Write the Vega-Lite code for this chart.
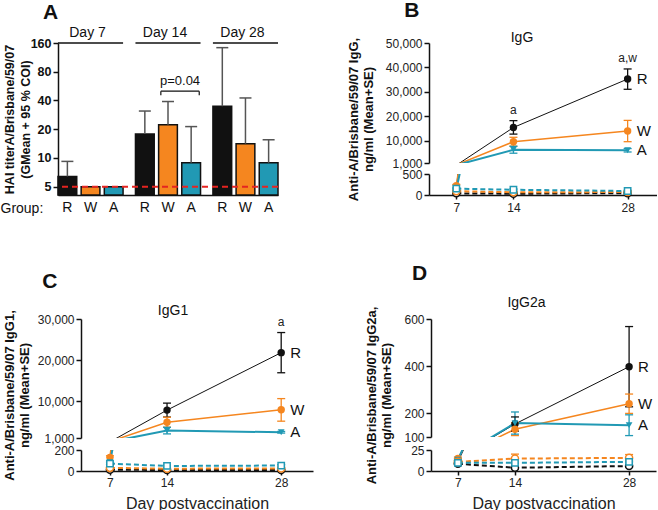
{
  "$schema": "https://vega.github.io/schema/vega-lite/v6.json",
  "padding": {"left": 0, "top": 0, "right": 0, "bottom": 0},
  "config": {
    "font": "Liberation Sans",
    "view": {"stroke": null},
    "axis": {"grid": false, "domainColor": "#111", "domainWidth": 1.5, "tickColor": "#111", "tickWidth": 1.5, "labelColor": "#222", "titleColor": "#111", "labelOverlap": false},
    "title": {"color": "#111"}
  },
  "datasets": {
    "hai": [
      {"day": "Day 7", "group": "R", "gmean": 6.4, "upper": 9.2},
      {"day": "Day 7", "group": "W", "gmean": 5, "upper": 5},
      {"day": "Day 7", "group": "A", "gmean": 5, "upper": 5},
      {"day": "Day 14", "group": "R", "gmean": 17.8, "upper": 31},
      {"day": "Day 14", "group": "W", "gmean": 22.3, "upper": 39},
      {"day": "Day 14", "group": "A", "gmean": 8.9, "upper": 21.3},
      {"day": "Day 28", "group": "R", "gmean": 34.8, "upper": 143},
      {"day": "Day 28", "group": "W", "gmean": 14.1, "upper": 42.5},
      {"day": "Day 28", "group": "A", "gmean": 8.9, "upper": 15.5}
    ],
    "days": [{"day": "Day 7"}, {"day": "Day 14"}, {"day": "Day 28"}],
    "pval": [{"day": "Day 14", "label": "p=0.04"}],
    "lod": [{"lod": 5}],
    "ab": [
      {"panel": "IgG", "arm": "vaccine", "group": "R", "day": 7, "mean": 90, "lo": 70, "hi": 110},
      {"panel": "IgG", "arm": "vaccine", "group": "R", "day": 14, "mean": 15500, "lo": 12800, "hi": 18300, "sig": "a"},
      {"panel": "IgG", "arm": "vaccine", "group": "R", "day": 28, "mean": 35300, "lo": 31100, "hi": 39400, "sig": "a,w"},
      {"panel": "IgG", "arm": "vaccine", "group": "W", "day": 7, "mean": 220, "lo": 190, "hi": 250},
      {"panel": "IgG", "arm": "vaccine", "group": "W", "day": 14, "mean": 9700, "lo": 7900, "hi": 11500},
      {"panel": "IgG", "arm": "vaccine", "group": "W", "day": 28, "mean": 14100, "lo": 9700, "hi": 18400},
      {"panel": "IgG", "arm": "vaccine", "group": "A", "day": 7, "mean": 135, "lo": 110, "hi": 160},
      {"panel": "IgG", "arm": "vaccine", "group": "A", "day": 14, "mean": 6400, "lo": 5000, "hi": 7800},
      {"panel": "IgG", "arm": "vaccine", "group": "A", "day": 28, "mean": 6200, "lo": 5500, "hi": 6900},
      {"panel": "IgG", "arm": "control", "group": "R", "day": 7, "mean": 40, "lo": 30, "hi": 50},
      {"panel": "IgG", "arm": "control", "group": "R", "day": 14, "mean": 30, "lo": 20, "hi": 40},
      {"panel": "IgG", "arm": "control", "group": "R", "day": 28, "mean": 45, "lo": 35, "hi": 55},
      {"panel": "IgG", "arm": "control", "group": "W", "day": 7, "mean": 90, "lo": 75, "hi": 105},
      {"panel": "IgG", "arm": "control", "group": "W", "day": 14, "mean": 65, "lo": 50, "hi": 80},
      {"panel": "IgG", "arm": "control", "group": "W", "day": 28, "mean": 70, "lo": 55, "hi": 85},
      {"panel": "IgG", "arm": "control", "group": "A", "day": 7, "mean": 150, "lo": 130, "hi": 170},
      {"panel": "IgG", "arm": "control", "group": "A", "day": 14, "mean": 125, "lo": 105, "hi": 145},
      {"panel": "IgG", "arm": "control", "group": "A", "day": 28, "mean": 95, "lo": 80, "hi": 110},

      {"panel": "IgG1", "arm": "vaccine", "group": "R", "day": 7, "mean": 55, "lo": 45, "hi": 65},
      {"panel": "IgG1", "arm": "vaccine", "group": "R", "day": 14, "mean": 7800, "lo": 6100, "hi": 9500},
      {"panel": "IgG1", "arm": "vaccine", "group": "R", "day": 28, "mean": 21800, "lo": 16900, "hi": 26700, "sig": "a"},
      {"panel": "IgG1", "arm": "vaccine", "group": "W", "day": 7, "mean": 130, "lo": 115, "hi": 145},
      {"panel": "IgG1", "arm": "vaccine", "group": "W", "day": 14, "mean": 4850, "lo": 3650, "hi": 6050},
      {"panel": "IgG1", "arm": "vaccine", "group": "W", "day": 28, "mean": 7900, "lo": 5100, "hi": 10600},
      {"panel": "IgG1", "arm": "vaccine", "group": "A", "day": 7, "mean": 85, "lo": 75, "hi": 95},
      {"panel": "IgG1", "arm": "vaccine", "group": "A", "day": 14, "mean": 2800, "lo": 2000, "hi": 3600},
      {"panel": "IgG1", "arm": "vaccine", "group": "A", "day": 28, "mean": 2400, "lo": 2200, "hi": 2600},
      {"panel": "IgG1", "arm": "control", "group": "R", "day": 7, "mean": 12, "lo": 9, "hi": 15},
      {"panel": "IgG1", "arm": "control", "group": "R", "day": 14, "mean": 10, "lo": 7, "hi": 13},
      {"panel": "IgG1", "arm": "control", "group": "R", "day": 28, "mean": 10, "lo": 7, "hi": 13},
      {"panel": "IgG1", "arm": "control", "group": "W", "day": 7, "mean": 30, "lo": 25, "hi": 35},
      {"panel": "IgG1", "arm": "control", "group": "W", "day": 14, "mean": 22, "lo": 17, "hi": 27},
      {"panel": "IgG1", "arm": "control", "group": "W", "day": 28, "mean": 25, "lo": 20, "hi": 30},
      {"panel": "IgG1", "arm": "control", "group": "A", "day": 7, "mean": 70, "lo": 60, "hi": 80},
      {"panel": "IgG1", "arm": "control", "group": "A", "day": 14, "mean": 48, "lo": 40, "hi": 56},
      {"panel": "IgG1", "arm": "control", "group": "A", "day": 28, "mean": 52, "lo": 44, "hi": 60},

      {"panel": "IgG2a", "arm": "vaccine", "group": "R", "day": 7, "mean": 11, "lo": 9.5, "hi": 12.5},
      {"panel": "IgG2a", "arm": "vaccine", "group": "R", "day": 14, "mean": 155, "lo": 125, "hi": 185},
      {"panel": "IgG2a", "arm": "vaccine", "group": "R", "day": 28, "mean": 398, "lo": 228, "hi": 568},
      {"panel": "IgG2a", "arm": "vaccine", "group": "W", "day": 7, "mean": 15, "lo": 13.5, "hi": 16.5},
      {"panel": "IgG2a", "arm": "vaccine", "group": "W", "day": 14, "mean": 133, "lo": 106, "hi": 160},
      {"panel": "IgG2a", "arm": "vaccine", "group": "W", "day": 28, "mean": 241, "lo": 200, "hi": 282},
      {"panel": "IgG2a", "arm": "vaccine", "group": "A", "day": 7, "mean": 13.5, "lo": 12, "hi": 15},
      {"panel": "IgG2a", "arm": "vaccine", "group": "A", "day": 14, "mean": 159, "lo": 112, "hi": 206},
      {"panel": "IgG2a", "arm": "vaccine", "group": "A", "day": 28, "mean": 150, "lo": 106, "hi": 194},
      {"panel": "IgG2a", "arm": "control", "group": "R", "day": 7, "mean": 8.6, "lo": 7.6, "hi": 9.6},
      {"panel": "IgG2a", "arm": "control", "group": "R", "day": 14, "mean": 3.9, "lo": 2.9, "hi": 4.9},
      {"panel": "IgG2a", "arm": "control", "group": "R", "day": 28, "mean": 5.9, "lo": 4.9, "hi": 6.9},
      {"panel": "IgG2a", "arm": "control", "group": "W", "day": 7, "mean": 10.9, "lo": 9.4, "hi": 12.4},
      {"panel": "IgG2a", "arm": "control", "group": "W", "day": 14, "mean": 14.8, "lo": 9.5, "hi": 20.1},
      {"panel": "IgG2a", "arm": "control", "group": "W", "day": 28, "mean": 15.6, "lo": 11.6, "hi": 19.6},
      {"panel": "IgG2a", "arm": "control", "group": "A", "day": 7, "mean": 9.7, "lo": 8.7, "hi": 10.7},
      {"panel": "IgG2a", "arm": "control", "group": "A", "day": 14, "mean": 9.7, "lo": 8.7, "hi": 10.7},
      {"panel": "IgG2a", "arm": "control", "group": "A", "day": 28, "mean": 10.9, "lo": 9.9, "hi": 11.9}
    ]
  },
  "spacing": 48,
  "vconcat": [
    {
      "spacing": 68,
      "hconcat": [
        {
          "width": 220,
          "height": 152,
          "title": {"text": "A", "anchor": "start", "dx": 43, "fontSize": 21, "fontWeight": "bold", "offset": 3},
          "layer": [
            {
              "data": {"name": "hai"},
              "mark": {"type": "bar", "stroke": "#111", "strokeWidth": 1.5},
              "encoding": {
                "x": {"field": "day", "type": "nominal", "sort": ["Day 7", "Day 14", "Day 28"], "scale": {"paddingInner": 0.16, "paddingOuter": 0},
                  "axis": {"title": "Group:", "labels": false, "ticks": false, "titleX": -58, "titleY": 13, "titleAlign": "left", "titleBaseline": "middle", "titleFontSize": 14, "titleFontWeight": "normal", "titleColor": "#111"}},
                "xOffset": {"field": "group", "type": "nominal", "sort": ["R", "W", "A"], "scale": {"paddingInner": 0.19, "paddingOuter": 0}},
                "y": {"field": "gmean", "type": "quantitative", "scale": {"type": "log", "domain": [4.09, 160], "nice": false},
                  "axis": {"values": [5, 10, 20, 40, 80, 160], "tickCount": 20, "format": "d", "title": ["HAI titerA/Brisbane/59/07", "(GMean + 95 % COI)"], "titleFontSize": 12.5, "titleFontWeight": "bold", "titleLineHeight": 16, "titlePadding": -2, "labelFontSize": 12.5, "labelFontWeight": "bold", "labelColor": "#111", "tickSize": 5, "labelPadding": 2}},
                "y2": {"datum": 4.09},
                "color": {"field": "group", "type": "nominal", "scale": {"domain": ["R", "W", "A"], "range": ["#111111", "#F5861F", "#2199B4"]}, "legend": null}
              }
            },
            {
              "data": {"name": "hai"},
              "transform": [{"filter": "datum.upper > datum.gmean"}],
              "mark": {"type": "rule", "color": "#555", "strokeWidth": 1.5},
              "encoding": {
                "x": {"field": "day", "type": "nominal", "sort": ["Day 7", "Day 14", "Day 28"]},
                "xOffset": {"field": "group", "type": "nominal", "sort": ["R", "W", "A"]},
                "y": {"field": "gmean", "type": "quantitative"},
                "y2": {"field": "upper"}
              }
            },
            {
              "data": {"name": "hai"},
              "transform": [{"filter": "datum.upper > datum.gmean"}],
              "mark": {"type": "tick", "orient": "horizontal", "color": "#555", "size": 12, "thickness": 1.5, "opacity": 1},
              "encoding": {
                "x": {"field": "day", "type": "nominal", "sort": ["Day 7", "Day 14", "Day 28"]},
                "xOffset": {"field": "group", "type": "nominal", "sort": ["R", "W", "A"]},
                "y": {"field": "upper", "type": "quantitative"}
              }
            },
            {
              "data": {"name": "lod"},
              "mark": {"type": "rule", "color": "#E52421", "strokeWidth": 2, "strokeDash": [6, 4]},
              "encoding": {"y": {"field": "lod", "type": "quantitative"}}
            },
            {
              "data": {"name": "days"},
              "mark": {"type": "rule", "color": "#111", "strokeWidth": 1.5},
              "encoding": {
                "x": {"field": "day", "type": "nominal", "sort": ["Day 7", "Day 14", "Day 28"], "bandPosition": 0},
                "x2": {"field": "day", "bandPosition": 1},
                "y": {"datum": 160}
              }
            },
            {
              "data": {"name": "days"},
              "mark": {"type": "text", "fontSize": 14, "dy": -10, "dx": -3, "baseline": "middle", "color": "#111"},
              "encoding": {
                "x": {"field": "day", "type": "nominal", "sort": ["Day 7", "Day 14", "Day 28"]},
                "y": {"datum": 160},
                "text": {"field": "day"}
              }
            },
            {
              "data": {"name": "hai"},
              "mark": {"type": "text", "fontSize": 14, "dy": 13, "baseline": "middle", "color": "#111"},
              "encoding": {
                "x": {"field": "day", "type": "nominal", "sort": ["Day 7", "Day 14", "Day 28"]},
                "xOffset": {"field": "group", "type": "nominal", "sort": ["R", "W", "A"]},
                "y": {"datum": 4.09},
                "text": {"field": "group"}
              }
            },
            {
              "data": {"name": "pval"},
              "mark": {"type": "rule", "color": "#111", "strokeWidth": 1.2},
              "encoding": {
                "x": {"field": "day", "type": "nominal", "sort": ["Day 7", "Day 14", "Day 28"], "bandPosition": 0.39},
                "x2": {"field": "day", "bandPosition": 0.98},
                "y": {"datum": 50}
              }
            },
            {
              "data": {"name": "pval"},
              "mark": {"type": "rule", "color": "#111", "strokeWidth": 1.2},
              "encoding": {
                "x": {"field": "day", "type": "nominal", "sort": ["Day 7", "Day 14", "Day 28"], "bandPosition": 0.39},
                "y": {"datum": 50},
                "y2": {"datum": 45.5}
              }
            },
            {
              "data": {"name": "pval"},
              "mark": {"type": "rule", "color": "#111", "strokeWidth": 1.2},
              "encoding": {
                "x": {"field": "day", "type": "nominal", "sort": ["Day 7", "Day 14", "Day 28"], "bandPosition": 0.98},
                "y": {"datum": 50},
                "y2": {"datum": 45.5}
              }
            },
            {
              "data": {"name": "pval"},
              "mark": {"type": "text", "fontSize": 13, "dy": -10, "baseline": "middle", "color": "#111"},
              "encoding": {
                "x": {"field": "day", "type": "nominal", "sort": ["Day 7", "Day 14", "Day 28"], "bandPosition": 0.685},
                "y": {"datum": 50},
                "text": {"field": "label"}
              }
            }
          ]
        },
        {
          "title": {"text": "B", "anchor": "start", "dx": 57, "fontSize": 21, "fontWeight": "bold", "offset": 10},
          "spacing": 11,
          "bounds": "flush",
          "vconcat": [
            {
              "width": 228,
              "height": 120,
              "title": {"text": "IgG", "fontSize": 14, "fontWeight": "normal", "dx": -21, "offset": -8, "frame": "group"},
              "data": {"name": "ab"},
              "transform": [{"filter": "datum.panel == 'IgG'"}],
              "encoding": {
                "x": {"field": "day", "type": "quantitative", "scale": {"domain": [3.65, 31.6], "nice": false, "zero": false}, "axis": null},
                "color": {"field": "group", "type": "nominal", "scale": {"domain": ["R", "W", "A"], "range": ["#111111", "#F5861F", "#2199B4"]}, "legend": null}
              },
              "layer": [
                {
                  "transform": [{"filter": "datum.arm == 'vaccine'"}],
                  "mark": {"type": "line", "clip": true},
                  "encoding": {
                    "y": {"field": "mean", "type": "quantitative", "scale": {"domain": [1000, 50000], "nice": false, "zero": false},
                      "axis": {"values": [1000, 10000, 20000, 30000, 40000, 50000], "tickCount": 20, "format": ",d", "title": ["Anti-A/Brisbane/59/07 IgG,", "ng/ml (Mean+SE)"], "titleFontSize": 13, "titleFontWeight": "bold", "titleLineHeight": 15, "titlePadding": 10, "titleY": 76, "labelFontSize": 12, "tickSize": 5, "labelPadding": 2}},
                    "strokeWidth": {"field": "group", "type": "nominal", "scale": {"domain": ["R", "W", "A"], "range": [1, 2, 2]}, "legend": null}
                  }
                },
                {
                  "transform": [{"filter": "datum.arm == 'vaccine' && datum.mean >= 1000"}],
                  "mark": {"type": "rule", "strokeWidth": 1.3},
                  "encoding": {"y": {"field": "lo", "type": "quantitative"}, "y2": {"field": "hi"}}
                },
                {
                  "transform": [{"filter": "datum.arm == 'vaccine' && datum.mean >= 1000"}],
                  "mark": {"type": "tick", "orient": "horizontal", "size": 8, "thickness": 1.3, "opacity": 1},
                  "encoding": {"y": {"field": "lo", "type": "quantitative"}}
                },
                {
                  "transform": [{"filter": "datum.arm == 'vaccine' && datum.mean >= 1000"}],
                  "mark": {"type": "tick", "orient": "horizontal", "size": 8, "thickness": 1.3, "opacity": 1},
                  "encoding": {"y": {"field": "hi", "type": "quantitative"}}
                },
                {
                  "transform": [{"filter": "datum.arm == 'vaccine' && datum.mean >= 1000 && datum.group != 'A'"}],
                  "mark": {"type": "point", "shape": "circle", "filled": true, "size": 55, "opacity": 1},
                  "encoding": {"y": {"field": "mean", "type": "quantitative"}}
                },
                {
                  "transform": [{"filter": "datum.arm == 'vaccine' && datum.mean >= 1000 && datum.group == 'A'"}],
                  "mark": {"type": "point", "shape": "triangle-down", "filled": true, "size": 45, "opacity": 1},
                  "encoding": {"y": {"field": "mean", "type": "quantitative"}}
                },
                {
                  "transform": [{"filter": "datum.arm == 'vaccine' && datum.day == 28"}],
                  "mark": {"type": "text", "align": "left", "baseline": "middle", "dx": 9, "fontSize": 15},
                  "encoding": {"y": {"field": "mean", "type": "quantitative"}, "text": {"field": "group"}, "color": {"value": "#111"}}
                },
                {
                  "transform": [{"filter": "datum.sig"}],
                  "mark": {"type": "text", "baseline": "middle", "dy": -11, "fontSize": 12},
                  "encoding": {"y": {"field": "hi", "type": "quantitative"}, "text": {"field": "sig"}, "color": {"value": "#222"}}
                }
              ]
            },
            {
              "width": 228,
              "height": 21,
              "data": {"name": "ab"},
              "transform": [{"filter": "datum.panel == 'IgG'"}],
              "encoding": {
                "x": {"field": "day", "type": "quantitative", "scale": {"domain": [3.65, 31.6], "nice": false, "zero": false},
                  "axis": {"values": [7, 14, 28], "tickCount": 20, "format": "d", "title": null, "labelFontSize": 12, "tickSize": 4, "labelPadding": 3}},
                "color": {"field": "group", "type": "nominal", "scale": {"domain": ["R", "W", "A"], "range": ["#111111", "#F5861F", "#2199B4"]}, "legend": null}
              },
              "layer": [
                {
                  "transform": [{"filter": "datum.arm == 'control'"}],
                  "mark": {"type": "line", "strokeDash": [5, 3], "strokeWidth": 2},
                  "encoding": {
                    "y": {"field": "mean", "type": "quantitative", "scale": {"domain": [0, 500], "nice": false},
                      "axis": {"values": [0, 500], "tickCount": 20, "format": "d", "title": null, "labelFontSize": 12, "tickSize": 5, "labelPadding": 2}}
                  }
                },
                {
                  "transform": [{"filter": "datum.arm == 'vaccine'"}],
                  "mark": {"type": "line", "clip": true},
                  "encoding": {
                    "y": {"field": "mean", "type": "quantitative"},
                    "strokeWidth": {"field": "group", "type": "nominal", "scale": {"domain": ["R", "W", "A"], "range": [1, 2, 2]}, "legend": null}
                  }
                },
                {
                  "transform": [{"filter": "datum.mean <= 500"}],
                  "mark": {"type": "rule", "strokeWidth": 1.3},
                  "encoding": {"y": {"field": "lo", "type": "quantitative"}, "y2": {"field": "hi"}}
                },
                {
                  "transform": [{"filter": "datum.mean <= 500"}],
                  "mark": {"type": "tick", "orient": "horizontal", "size": 8, "thickness": 1.3, "opacity": 1},
                  "encoding": {"y": {"field": "hi", "type": "quantitative"}}
                },
                {
                  "transform": [{"filter": "datum.arm == 'vaccine' && datum.mean <= 500 && datum.group != 'A'"}],
                  "mark": {"type": "point", "shape": "circle", "filled": true, "size": 55, "opacity": 1},
                  "encoding": {"y": {"field": "mean", "type": "quantitative"}}
                },
                {
                  "transform": [{"filter": "datum.arm == 'vaccine' && datum.mean <= 500 && datum.group == 'A'"}],
                  "mark": {"type": "point", "shape": "triangle-down", "filled": true, "size": 45, "opacity": 1},
                  "encoding": {"y": {"field": "mean", "type": "quantitative"}}
                },
                {
                  "transform": [{"filter": "datum.arm == 'control' && datum.group != 'A'"}],
                  "mark": {"type": "point", "shape": "circle", "filled": false, "fill": "white", "strokeWidth": 1.5, "size": 50, "opacity": 1},
                  "encoding": {"y": {"field": "mean", "type": "quantitative"}}
                },
                {
                  "transform": [{"filter": "datum.arm == 'control' && datum.group == 'A'"}],
                  "mark": {"type": "point", "shape": "square", "filled": false, "fill": "white", "strokeWidth": 1.5, "size": 40, "opacity": 1},
                  "encoding": {"y": {"field": "mean", "type": "quantitative"}}
                }
              ]
            }
          ]
        }
      ]
    },
    {
      "spacing": 52,
      "hconcat": [
        {
          "spacing": 20,
          "bounds": "flush",
          "hconcat": [
            {"width": 3, "height": 1, "data": {"values": []}, "mark": "point"},
            {
              "title": {"text": "C", "anchor": "start", "dx": 39, "fontSize": 21, "fontWeight": "bold", "offset": 12},
              "spacing": 12,
              "bounds": "flush",
              "vconcat": [
                {
                  "width": 232,
                  "height": 119,
                  "title": {"text": "IgG1", "fontSize": 14, "fontWeight": "normal", "dx": -24, "offset": -8, "frame": "group"},
                  "data": {"name": "ab"},
                  "transform": [{"filter": "datum.panel == 'IgG1'"}],
                  "encoding": {
                    "x": {"field": "day", "type": "quantitative", "scale": {"domain": [3.45, 31.9], "nice": false, "zero": false}, "axis": null},
                    "color": {"field": "group", "type": "nominal", "scale": {"domain": ["R", "W", "A"], "range": ["#111111", "#F5861F", "#2199B4"]}, "legend": null}
                  },
                  "layer": [
                    {
                      "transform": [{"filter": "datum.arm == 'vaccine'"}],
                      "mark": {"type": "line", "clip": true},
                      "encoding": {
                        "y": {"field": "mean", "type": "quantitative", "scale": {"domain": [1000, 30000], "nice": false, "zero": false},
                          "axis": {"values": [1000, 10000, 20000, 30000], "tickCount": 20, "format": ",d", "title": ["Anti-A/Brisbane/59/07 IgG1,", "ng/ml (Mean+SE)"], "titleFontSize": 13, "titleFontWeight": "bold", "titleLineHeight": 15, "titlePadding": 6, "titleY": 76, "labelFontSize": 12, "tickSize": 5, "labelPadding": 2}},
                        "strokeWidth": {"field": "group", "type": "nominal", "scale": {"domain": ["R", "W", "A"], "range": [1, 2, 2]}, "legend": null}
                      }
                    },
                    {
                      "transform": [{"filter": "datum.arm == 'vaccine' && datum.mean >= 1000"}],
                      "mark": {"type": "rule", "strokeWidth": 1.3},
                      "encoding": {"y": {"field": "lo", "type": "quantitative"}, "y2": {"field": "hi"}}
                    },
                    {
                      "transform": [{"filter": "datum.arm == 'vaccine' && datum.mean >= 1000"}],
                      "mark": {"type": "tick", "orient": "horizontal", "size": 8, "thickness": 1.3, "opacity": 1},
                      "encoding": {"y": {"field": "lo", "type": "quantitative"}}
                    },
                    {
                      "transform": [{"filter": "datum.arm == 'vaccine' && datum.mean >= 1000"}],
                      "mark": {"type": "tick", "orient": "horizontal", "size": 8, "thickness": 1.3, "opacity": 1},
                      "encoding": {"y": {"field": "hi", "type": "quantitative"}}
                    },
                    {
                      "transform": [{"filter": "datum.arm == 'vaccine' && datum.mean >= 1000 && datum.group != 'A'"}],
                      "mark": {"type": "point", "shape": "circle", "filled": true, "size": 55, "opacity": 1},
                      "encoding": {"y": {"field": "mean", "type": "quantitative"}}
                    },
                    {
                      "transform": [{"filter": "datum.arm == 'vaccine' && datum.mean >= 1000 && datum.group == 'A'"}],
                      "mark": {"type": "point", "shape": "triangle-down", "filled": true, "size": 45, "opacity": 1},
                      "encoding": {"y": {"field": "mean", "type": "quantitative"}}
                    },
                    {
                      "transform": [{"filter": "datum.arm == 'vaccine' && datum.day == 28"}],
                      "mark": {"type": "text", "align": "left", "baseline": "middle", "dx": 9, "fontSize": 15},
                      "encoding": {"y": {"field": "mean", "type": "quantitative"}, "text": {"field": "group"}, "color": {"value": "#111"}}
                    },
                    {
                      "transform": [{"filter": "datum.sig"}],
                      "mark": {"type": "text", "baseline": "middle", "dy": -11, "fontSize": 12},
                      "encoding": {"y": {"field": "hi", "type": "quantitative"}, "text": {"field": "sig"}, "color": {"value": "#222"}}
                    }
                  ]
                },
                {
                  "width": 232,
                  "height": 21,
                  "data": {"name": "ab"},
                  "transform": [{"filter": "datum.panel == 'IgG1'"}],
                  "encoding": {
                    "x": {"field": "day", "type": "quantitative", "scale": {"domain": [3.45, 31.9], "nice": false, "zero": false},
                      "axis": {"values": [7, 14, 28], "tickCount": 20, "format": "d", "title": "Day postvaccination", "titleFontSize": 16, "titleFontWeight": "normal", "titleColor": "#222", "titlePadding": 7, "labelFontSize": 12, "tickSize": 4, "labelPadding": 2}},
                    "color": {"field": "group", "type": "nominal", "scale": {"domain": ["R", "W", "A"], "range": ["#111111", "#F5861F", "#2199B4"]}, "legend": null}
                  },
                  "layer": [
                    {
                      "transform": [{"filter": "datum.arm == 'control'"}],
                      "mark": {"type": "line", "strokeDash": [5, 3], "strokeWidth": 2},
                      "encoding": {
                        "y": {"field": "mean", "type": "quantitative", "scale": {"domain": [0, 200], "nice": false},
                          "axis": {"values": [0, 200], "tickCount": 20, "format": "d", "title": null, "labelFontSize": 12, "tickSize": 5, "labelPadding": 2}}
                      }
                    },
                    {
                      "transform": [{"filter": "datum.arm == 'vaccine'"}],
                      "mark": {"type": "line", "clip": true},
                      "encoding": {
                        "y": {"field": "mean", "type": "quantitative"},
                        "strokeWidth": {"field": "group", "type": "nominal", "scale": {"domain": ["R", "W", "A"], "range": [1, 2, 2]}, "legend": null}
                      }
                    },
                    {
                      "transform": [{"filter": "datum.mean <= 200"}],
                      "mark": {"type": "rule", "strokeWidth": 1.3},
                      "encoding": {"y": {"field": "lo", "type": "quantitative"}, "y2": {"field": "hi"}}
                    },
                    {
                      "transform": [{"filter": "datum.mean <= 200"}],
                      "mark": {"type": "tick", "orient": "horizontal", "size": 8, "thickness": 1.3, "opacity": 1},
                      "encoding": {"y": {"field": "hi", "type": "quantitative"}}
                    },
                    {
                      "transform": [{"filter": "datum.arm == 'vaccine' && datum.mean <= 200 && datum.group != 'A'"}],
                      "mark": {"type": "point", "shape": "circle", "filled": true, "size": 55, "opacity": 1},
                      "encoding": {"y": {"field": "mean", "type": "quantitative"}}
                    },
                    {
                      "transform": [{"filter": "datum.arm == 'vaccine' && datum.mean <= 200 && datum.group == 'A'"}],
                      "mark": {"type": "point", "shape": "triangle-down", "filled": true, "size": 45, "opacity": 1},
                      "encoding": {"y": {"field": "mean", "type": "quantitative"}}
                    },
                    {
                      "transform": [{"filter": "datum.arm == 'control' && datum.group != 'A'"}],
                      "mark": {"type": "point", "shape": "circle", "filled": false, "fill": "white", "strokeWidth": 1.5, "size": 50, "opacity": 1},
                      "encoding": {"y": {"field": "mean", "type": "quantitative"}}
                    },
                    {
                      "transform": [{"filter": "datum.arm == 'control' && datum.group == 'A'"}],
                      "mark": {"type": "point", "shape": "square", "filled": false, "fill": "white", "strokeWidth": 1.5, "size": 40, "opacity": 1},
                      "encoding": {"y": {"field": "mean", "type": "quantitative"}}
                    }
                  ]
                }
              ]
            }
          ]
        },
        {
          "title": {"text": "D", "anchor": "start", "dx": 46, "fontSize": 21, "fontWeight": "bold", "offset": 12},
          "spacing": 13,
          "bounds": "flush",
          "vconcat": [
            {
              "width": 225,
              "height": 118,
              "title": {"text": "IgG2a", "fontSize": 14, "fontWeight": "normal", "dx": -17, "offset": -4, "frame": "group"},
              "data": {"name": "ab"},
              "transform": [{"filter": "datum.panel == 'IgG2a'"}],
              "encoding": {
                "x": {"field": "day", "type": "quantitative", "scale": {"domain": [3.7, 31.3], "nice": false, "zero": false}, "axis": null},
                "color": {"field": "group", "type": "nominal", "scale": {"domain": ["R", "W", "A"], "range": ["#111111", "#F5861F", "#2199B4"]}, "legend": null}
              },
              "layer": [
                {
                  "transform": [{"filter": "datum.arm == 'vaccine'"}],
                  "mark": {"type": "line", "clip": true},
                  "encoding": {
                    "y": {"field": "mean", "type": "quantitative", "scale": {"domain": [100, 600], "nice": false, "zero": false},
                      "axis": {"values": [100, 200, 400, 600], "tickCount": 20, "format": "d", "title": ["Anti-A/Brisbane/59/07 IgG2a,", "ng/ml (Mean+SE)"], "titleFontSize": 13, "titleFontWeight": "bold", "titleLineHeight": 15, "titlePadding": 10, "titleY": 76, "labelFontSize": 12, "tickSize": 5, "labelPadding": 2}},
                    "strokeWidth": {"field": "group", "type": "nominal", "scale": {"domain": ["R", "W", "A"], "range": [1, 2, 2]}, "legend": null}
                  }
                },
                {
                  "transform": [{"filter": "datum.arm == 'vaccine' && datum.mean >= 100"}],
                  "mark": {"type": "rule", "strokeWidth": 1.3},
                  "encoding": {"y": {"field": "lo", "type": "quantitative"}, "y2": {"field": "hi"}}
                },
                {
                  "transform": [{"filter": "datum.arm == 'vaccine' && datum.mean >= 100"}],
                  "mark": {"type": "tick", "orient": "horizontal", "size": 8, "thickness": 1.3, "opacity": 1},
                  "encoding": {"y": {"field": "lo", "type": "quantitative"}}
                },
                {
                  "transform": [{"filter": "datum.arm == 'vaccine' && datum.mean >= 100"}],
                  "mark": {"type": "tick", "orient": "horizontal", "size": 8, "thickness": 1.3, "opacity": 1},
                  "encoding": {"y": {"field": "hi", "type": "quantitative"}}
                },
                {
                  "transform": [{"filter": "datum.arm == 'vaccine' && datum.mean >= 100 && datum.group != 'A'"}],
                  "mark": {"type": "point", "shape": "circle", "filled": true, "size": 55, "opacity": 1},
                  "encoding": {"y": {"field": "mean", "type": "quantitative"}}
                },
                {
                  "transform": [{"filter": "datum.arm == 'vaccine' && datum.mean >= 100 && datum.group == 'A'"}],
                  "mark": {"type": "point", "shape": "triangle-down", "filled": true, "size": 45, "opacity": 1},
                  "encoding": {"y": {"field": "mean", "type": "quantitative"}}
                },
                {
                  "transform": [{"filter": "datum.arm == 'vaccine' && datum.day == 28"}],
                  "mark": {"type": "text", "align": "left", "baseline": "middle", "dx": 9, "fontSize": 15},
                  "encoding": {"y": {"field": "mean", "type": "quantitative"}, "text": {"field": "group"}, "color": {"value": "#111"}}
                }
              ]
            },
            {
              "width": 225,
              "height": 21,
              "data": {"name": "ab"},
              "transform": [{"filter": "datum.panel == 'IgG2a'"}],
              "encoding": {
                "x": {"field": "day", "type": "quantitative", "scale": {"domain": [3.7, 31.3], "nice": false, "zero": false},
                  "axis": {"values": [7, 14, 28], "tickCount": 20, "format": "d", "title": "Day postvaccination", "titleFontSize": 16, "titleFontWeight": "normal", "titleColor": "#222", "titlePadding": 7, "labelFontSize": 12, "tickSize": 4, "labelPadding": 2}},
                "color": {"field": "group", "type": "nominal", "scale": {"domain": ["R", "W", "A"], "range": ["#111111", "#F5861F", "#2199B4"]}, "legend": null}
              },
              "layer": [
                {
                  "transform": [{"filter": "datum.arm == 'control'"}],
                  "mark": {"type": "line", "strokeDash": [5, 3], "strokeWidth": 2},
                  "encoding": {
                    "y": {"field": "mean", "type": "quantitative", "scale": {"domain": [0, 25], "nice": false},
                      "axis": {"values": [0, 25], "tickCount": 20, "format": "d", "title": null, "labelFontSize": 12, "tickSize": 5, "labelPadding": 2}}
                  }
                },
                {
                  "transform": [{"filter": "datum.arm == 'vaccine'"}],
                  "mark": {"type": "line", "clip": true},
                  "encoding": {
                    "y": {"field": "mean", "type": "quantitative"},
                    "strokeWidth": {"field": "group", "type": "nominal", "scale": {"domain": ["R", "W", "A"], "range": [1, 2, 2]}, "legend": null}
                  }
                },
                {
                  "transform": [{"filter": "datum.mean <= 25"}],
                  "mark": {"type": "rule", "strokeWidth": 1.3},
                  "encoding": {"y": {"field": "lo", "type": "quantitative"}, "y2": {"field": "hi"}}
                },
                {
                  "transform": [{"filter": "datum.mean <= 25"}],
                  "mark": {"type": "tick", "orient": "horizontal", "size": 8, "thickness": 1.3, "opacity": 1},
                  "encoding": {"y": {"field": "hi", "type": "quantitative"}}
                },
                {
                  "transform": [{"filter": "datum.mean <= 25"}],
                  "mark": {"type": "tick", "orient": "horizontal", "size": 8, "thickness": 1.3, "opacity": 1},
                  "encoding": {"y": {"field": "lo", "type": "quantitative"}}
                },
                {
                  "transform": [{"filter": "datum.arm == 'vaccine' && datum.mean <= 25 && datum.group != 'A'"}],
                  "mark": {"type": "point", "shape": "circle", "filled": true, "size": 55, "opacity": 1},
                  "encoding": {"y": {"field": "mean", "type": "quantitative"}}
                },
                {
                  "transform": [{"filter": "datum.arm == 'vaccine' && datum.mean <= 25 && datum.group == 'A'"}],
                  "mark": {"type": "point", "shape": "triangle-down", "filled": true, "size": 45, "opacity": 1},
                  "encoding": {"y": {"field": "mean", "type": "quantitative"}}
                },
                {
                  "transform": [{"filter": "datum.arm == 'control' && datum.group != 'A'"}],
                  "mark": {"type": "point", "shape": "circle", "filled": false, "fill": "white", "strokeWidth": 1.5, "size": 50, "opacity": 1},
                  "encoding": {"y": {"field": "mean", "type": "quantitative"}}
                },
                {
                  "transform": [{"filter": "datum.arm == 'control' && datum.group == 'A'"}],
                  "mark": {"type": "point", "shape": "square", "filled": false, "fill": "white", "strokeWidth": 1.5, "size": 40, "opacity": 1},
                  "encoding": {"y": {"field": "mean", "type": "quantitative"}}
                }
              ]
            }
          ]
        }
      ]
    }
  ]
}
